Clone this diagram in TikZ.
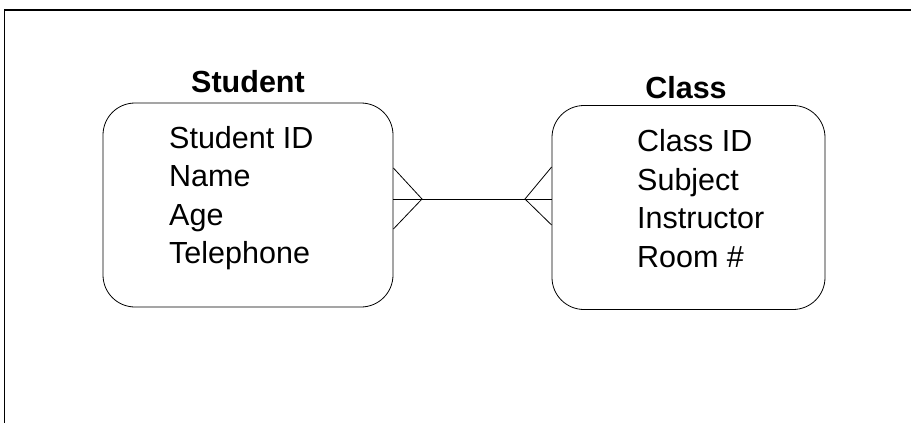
\documentclass[tikz,border=0pt]{standalone}
\usepackage{fontspec}
\setmainfont{Liberation Sans}
\usepackage{tikz}
\usetikzlibrary{calc}

\tikzset{
  entity/.style={draw,rounded corners=32pt,minimum width=290pt,minimum height=204pt,inner sep=0pt,line width=0.8pt},
  attrs/.style={anchor=base west,align=left,inner sep=0pt,font=\fontsize{30.5}{38.5}\selectfont},
  title/.style={anchor=base,inner sep=0pt,font=\fontsize{30.5}{34}\selectfont\bfseries},
  rel/.style={line width=0.8pt}
}

\begin{document}
\begin{tikzpicture}[x=1pt,y=-1pt]
 \useasboundingbox (0,0) rectangle (911,423);
 % frame, only top and left edges show
 \draw[line width=1.6pt] (4.5,423) -- (4.5,10) -- (911,10);
 % the two entities
 \node[entity] (stu) at (248,205) {};
 \node[entity,minimum width=273pt] (cls) at (688.5,207.5) {};
 \node[title] (stutitle) at (248,92) {Student};
 \node[title] (clstitle) at (686,98) {Class};
 % base sits on the last line
 \node[attrs] (stuattr) at (169,263.5) {Student ID\\Name\\Age\\Telephone};
 \node[attrs] (clsattr) at (637,267) {Class ID\\Subject\\Instructor\\Room \#};
 % many-to-many link with crow's feet at both ends
 \coordinate (lapex) at (422,199);
 \coordinate (rapex) at (525,199);
 \draw[rel] (stu.east |- lapex) -- (cls.west |- rapex);
 \draw[rel] (stu.east |- 0,168) -- (lapex) -- (stu.east |- 0,229);
 \draw[rel] (cls.west |- 0,167) -- (rapex) -- (cls.west |- 0,225);
\end{tikzpicture}
\end{document}
